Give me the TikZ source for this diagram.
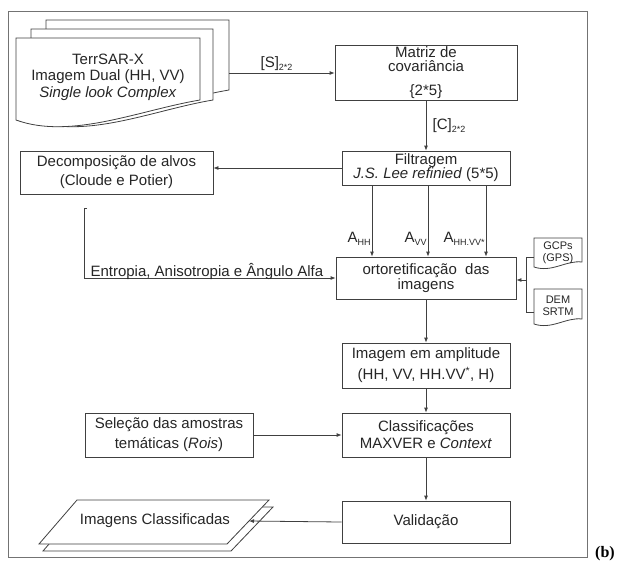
\documentclass[tikz,border=0pt]{standalone}
\usepackage{fontspec}
\setmainfont{Liberation Sans}
\newfontfamily\serifb{Liberation Serif}
\usetikzlibrary{arrows.meta,calc}
% small subscript in the text font
\newcommand\sbs[1]{\raisebox{-0.4ex}{\fontsize{9}{9}\selectfont #1}}

\begin{document}
\begin{tikzpicture}[x=1pt,y=-1pt,
    every node/.style={font=\fontsize{15}{17}\selectfont, text=black!85},
    box/.style={draw=black!75, line width=0.8pt, fill=white, align=center, inner sep=0pt},
    link/.style={draw=black!75, line width=0.8pt},
    flow/.style={link, -{Latex[length=5pt,width=4pt]}},
    tiny/.style={font=\fontsize{11}{12}\selectfont, align=center, inner sep=0pt}
    ]
    \useasboundingbox (0,0) rectangle (617,571);

    % moldura
    \draw[draw=black!55, line width=0.9pt] (8,11) rectangle (587,557);
    \node[font=\serifb\bfseries\fontsize{16}{16}\selectfont, text=black] (tag) at (605,554) {(b)};

    % pilha de imagens TerrSAR-X
    \foreach \xl/\xr/\yt/\yb in {46/229/20/90, 31/213/29/100, 16/200/38/100}
    \draw[link, fill=white] (\xl,\yt) -- (\xr,\yt) -- (\xr,\yb)
    .. controls (\xr-60,\yb+10) and (\xl+55,\yb+40) .. (\xl,\yb+20) -- cycle;
    \node[align=center, font=\fontsize{15}{16.5}\selectfont] (sar) at (108,77)
    {TerrSAR-X\\Imagem Dual (HH, VV)\\\textit{Single look Complex}};
    \coordinate (sarR) at (229,73);

    % caixas da coluna central
    \node[box, minimum width=182pt, minimum height=55pt] (matriz) at (426,72.5)
    {Matriz de\\[-3.5pt]covariância\\[7pt]\{2*5\}};
    \node[box, minimum width=168pt, minimum height=34pt, font=\fontsize{15}{14}\selectfont] (filtro) at (426,168)
    {Filtragem\\\textit{J.S. Lee refinied} (5*5)};
    \node[box, minimum width=180pt, minimum height=42pt, font=\fontsize{15}{15}\selectfont] (orto) at (426,278)
    {ortoretificação\ \ das\\imagens};
    \node[box, minimum width=168pt, minimum height=45pt, font=\fontsize{15}{21}\selectfont] (amp) at (426,365.5)
    {Imagem em amplitude\\(HH, VV, HH.VV\textsuperscript{*}, H)};
    \node[box, minimum width=168pt, minimum height=44pt] (classif) at (426,435)
    {Classificações\\MAXVER e \textit{Context}};
    \node[box, minimum width=168pt, minimum height=42pt] (valid) at (426,522) {Validação};

    % caixas da esquerda
    \node[box, minimum width=193pt, minimum height=43pt, font=\fontsize{15}{19}\selectfont] (decomp) at (116.5,172.5)
    {Decomposição de alvos\\(Cloude e Potier)};
    \node[box, minimum width=168pt, minimum height=44pt, font=\fontsize{15}{20}\selectfont] (selec) at (169,435)
    {Seleção das amostras\\temáticas (\textit{Rois})};

    % GCPs e DEM
    \draw[link, fill=white] (534,238) -- (582,238) -- (582,262)
    .. controls (566,260) and (552,273) .. (534,267) -- cycle;
    \node[tiny] (gcps) at (558,253) {GCPs\\(GPS)};
    \draw[link, fill=white] (534,289) -- (582,289) -- (582,319)
    .. controls (566,317) and (552,330) .. (534,324) -- cycle;
    \node[tiny] (dem) at (558,306) {DEM\\SRTM};
    \coordinate (gcpL) at (534,257);
    \coordinate (demL) at (534,312);
    \coordinate (brk) at (526,280);

    % imagens classificadas
    \draw[link, fill=white] (81,507) -- (273,507) -- (231,551) -- (43,551) -- cycle;
    \draw[link, fill=white] (77,500) -- (269,500) -- (227,544) -- (39,544) -- cycle;
    \node (cls) at (155,521) {Imagens Classificadas};
    \coordinate (clsR) at (249,521);

    % ligacoes
    \draw[flow] (sarR) -- (sarR -| matriz.west)
    node[pos=0.45, anchor=south, inner sep=2pt] (slab) {[S]\sbs{2*2}};
    \draw[flow] (matriz.south) -- (filtro.north)
    node[midway, anchor=west, xshift=3pt] (clab) {[C]\sbs{2*2}};
    \draw[flow] (filtro.west) -- (filtro.west -| decomp.east);
    \foreach \px/\lab in {372/HH, 428/VV, 486/HH.VV*}
    \draw[flow] (filtro.south -| \px,0) -- (orto.north -| \px,0)
    node[pos=0.86, anchor=south east, inner sep=1pt] {A\sbs{\lab}};

    \coordinate (ent) at (84,208);
    \draw[link] ($(ent)+(3,0)$) -- (ent) -- (ent |- orto.west);
    \draw[flow] (ent |- orto.west) -- (orto.west);
    \node[anchor=base west] (elab) at (87,276) {Entropia, Anisotropia e Ângulo Alfa};

    \draw[link] (gcpL) -- (gcpL -| brk) -- (demL -| brk) -- (demL);
    \draw[flow] (brk) -- (brk -| orto.east);

    \draw[flow] (orto) -- (amp);
    \draw[flow] (amp) -- (classif);
    \draw[flow] (selec) -- (classif);
    \draw[flow] (classif) -- (valid);
    \draw[flow] (valid.west) -- (clsR);

\end{tikzpicture}
\end{document}
